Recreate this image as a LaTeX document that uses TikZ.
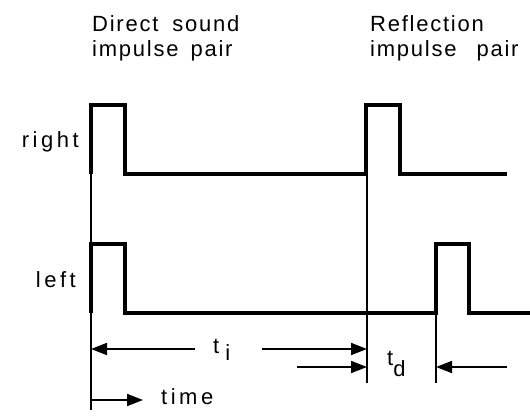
\documentclass[tikz,border=0pt]{standalone}
\usepackage{fontspec}
\setmainfont{Liberation Sans}[LetterSpace=8]
\usetikzlibrary{arrows.meta, calc, positioning}
\tikzset{
    pulse/.style={line width=3.6pt},
    guide/.style={line width=1.8pt},
    dim/.style={line width=1.8pt, -{Triangle[length=16pt, width=12pt]}},
    lbl/.style={font=\fontsize{22}{26}\selectfont, inner sep=0pt},
    widelbl/.style={lbl, font=\fontsize{22}{26}\selectfont\addfontfeatures{LetterSpace=16}},
}
\begin{document}
\begin{tikzpicture}[x=1pt, y=-1pt]
    \useasboundingbox (0,0) rectangle (530,417);

    % 标题
    \node[lbl, anchor=base west] (direct) at (92,32) {Direct\hspace{14pt}sound};
    \node[lbl, anchor=base west] (directpair) at (92,57) {impulse\hspace{12pt}pair};
    \node[lbl, anchor=base west] (refl) at (370,32) {Reflection};
    \node[lbl, anchor=base west] (reflpair) at (370,57) {impulse\hspace{20pt}pair};

    % 通道名
    \node[widelbl, anchor=base east] (right) at (79,148) {right};
    \node[widelbl, anchor=base east] (left) at (76,287) {left};

    % 参考线
    \coordinate (o) at (91,105);
    \coordinate (oend) at (91,410);
    \coordinate (r) at (367,174);
    \coordinate (rend) at (367,383);
    \coordinate (d) at (436,313);
    \coordinate (dend) at (436,383);
    \draw[guide] (o) -- (oend);
    \draw[guide] (r) -- (rend);
    \draw[guide] (d) -- (dend);

    % 脉冲
    \draw[pulse] (91,174) -- (91,105) -- (125,105) -- (125,174) -- (366,174)
        -- (366,105) -- (400,105) -- (400,174) -- (507,174);
    \draw[pulse] (91,313) -- (91,244) -- (125,244) -- (125,313) -- (436,313)
        -- (436,244) -- (469,244) -- (469,313) -- (532,313);

    % 时间间隔
    \node[lbl, anchor=base west] (ti) at (213,353) {t\hspace{6pt}\raisebox{-7pt}{i}};
    \coordinate (tiL) at (195,349);
    \coordinate (tiR) at (262,349);
    \draw[dim] (tiL) -- (tiL -| o);
    \draw[dim] (tiR) -- (tiR -| r);

    \node[lbl, anchor=base west] (td) at (387,365) {t\raisebox{-11pt}{d}};
    \coordinate (tdL) at (297,367);
    \coordinate (tdR) at (507,367);
    \draw[dim] (tdL) -- (tdL -| r);
    \draw[dim] (tdR) -- (tdR -| d);

    \coordinate (tm) at (143,400);
    \draw[dim] (tm -| o) -- (tm);
    \node[widelbl, anchor=base west] (time) at (161,404) {time};
\end{tikzpicture}
\end{document}
